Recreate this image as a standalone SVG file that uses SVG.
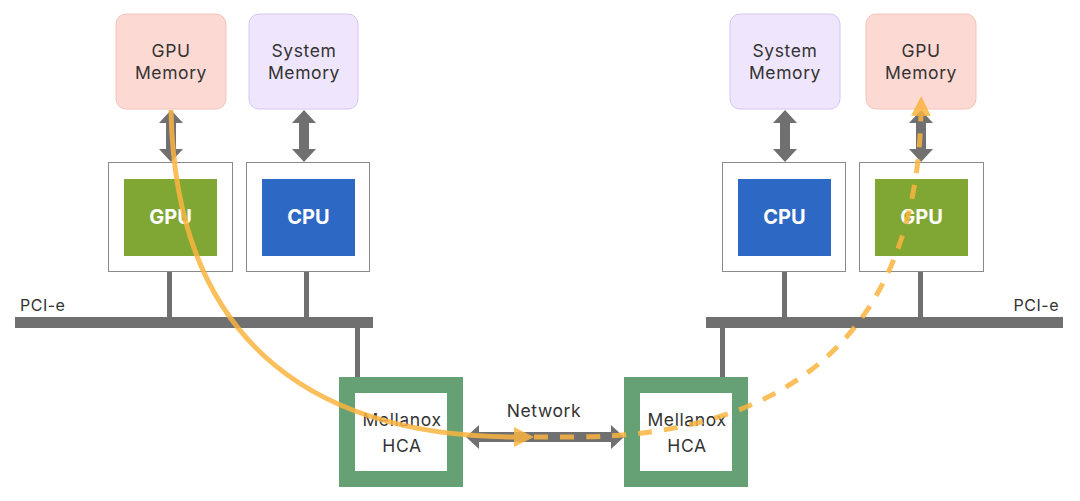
<svg xmlns="http://www.w3.org/2000/svg" width="1080" height="501" viewBox="0 0 1080 501">
<defs>
<style>
.gmem{fill:#fdd9d3;stroke:#f5c3b9;stroke-width:1}
.smem{fill:#efe6fd;stroke:#d6c4f6;stroke-width:1}
.outer{fill:#ffffff;stroke:#8a8a8a;stroke-width:1}
.gpu{fill:#80a733}
.cpu{fill:#2d68c4}
.hca{fill:#ffffff;stroke:#65a174;stroke-width:16}
.grey{fill:#707070}
.lbl{font-family:Inter,"Noto Sans","DejaVu Sans",sans-serif;font-size:17.5px;letter-spacing:0.6px;fill:#333333;text-anchor:middle}
.chip{font-family:Inter,"Noto Sans","DejaVu Sans",sans-serif;font-size:20px;font-weight:bold;fill:#ffffff;text-anchor:middle}
.pci{font-family:Inter,"Noto Sans","DejaVu Sans",sans-serif;font-size:16px;letter-spacing:0.5px;fill:#333333}
.flow{fill:none;stroke:#fbb440;stroke-width:5;opacity:0.85}
</style>
<marker id="oh" viewBox="0 0 10 10" refX="2" refY="5" markerWidth="4" markerHeight="4" orient="auto" markerUnits="strokeWidth">
<path d="M0,0 L10,5 L0,10 Z" fill="#fbb440"/>
</marker>
</defs>

<g id="bus-left">
<rect class="grey" x="15" y="317" width="358" height="11"/>
<text class="pci" x="20" y="311">PCI-e</text>
</g>
<g id="bus-right">
<rect class="grey" x="706" y="317" width="357" height="11"/>
<text class="pci" x="1059" y="311" text-anchor="end">PCI-e</text>
</g>

<g id="links">
<rect class="grey" x="167" y="271" width="5" height="46"/>
<rect class="grey" x="304" y="271" width="5" height="46"/>
<rect class="grey" x="355" y="328" width="5" height="49"/>
<rect class="grey" x="782" y="271" width="5" height="46"/>
<rect class="grey" x="918" y="271" width="5" height="46"/>
<rect class="grey" x="720" y="328" width="5" height="49"/>
<polygon class="grey" points="171,110 183,123 176,123 176,149 183,149 171,162 159,149 166,149 166,123 159,123"/>
<polygon class="grey" points="304,110 316,123 309,123 309,149 316,149 304,162 292,149 299,149 299,123 292,123"/>
<polygon class="grey" points="785,110 797,123 790,123 790,149 797,149 785,162 773,149 780,149 780,123 773,123"/>
<polygon class="grey" points="921,110 933,123 926,123 926,149 933,149 921,162 909,149 916,149 916,123 909,123"/>
<polygon class="grey" points="466,437 479,425 479,432 611,432 611,425 624,437 611,449 611,442 479,442 479,449"/>
<text class="lbl" x="544" y="417">Network</text>
</g>

<g id="gpu-mem-left">
<rect class="gmem" x="116" y="14" width="110" height="95" rx="10"/>
<text class="lbl" x="171" y="57">GPU</text>
<text class="lbl" x="171" y="79">Memory</text>
</g>
<g id="sys-mem-left">
<rect class="smem" x="249" y="14" width="109" height="95" rx="10"/>
<text class="lbl" x="304" y="57">System</text>
<text class="lbl" x="304" y="79">Memory</text>
</g>
<g id="sys-mem-right">
<rect class="smem" x="730" y="14" width="110" height="95" rx="10"/>
<text class="lbl" x="785" y="57">System</text>
<text class="lbl" x="785" y="79">Memory</text>
</g>
<g id="gpu-mem-right">
<rect class="gmem" x="866" y="14" width="110" height="95" rx="10"/>
<text class="lbl" x="921" y="57">GPU</text>
<text class="lbl" x="921" y="79">Memory</text>
</g>

<g id="gpu-left">
<rect class="outer" x="108.5" y="162.5" width="124" height="109"/>
<rect class="gpu" x="124" y="179" width="93" height="77"/>
<text class="chip" x="170.5" y="224">GPU</text>
</g>
<g id="cpu-left">
<rect class="outer" x="246.5" y="162.5" width="123" height="109"/>
<rect class="cpu" x="262" y="179" width="93" height="77"/>
<text class="chip" x="308.5" y="224">CPU</text>
</g>
<g id="cpu-right">
<rect class="outer" x="722.5" y="162.5" width="123" height="109"/>
<rect class="cpu" x="738" y="179" width="93" height="77"/>
<text class="chip" x="784.5" y="224">CPU</text>
</g>
<g id="gpu-right">
<rect class="outer" x="859.5" y="162.5" width="124" height="109"/>
<rect class="gpu" x="875" y="179" width="93" height="77"/>
<text class="chip" x="921.5" y="224">GPU</text>
</g>

<g id="hca-left">
<rect class="hca" x="347" y="385" width="108" height="94"/>
<text class="lbl" x="402" y="426">Mellanox</text>
<text class="lbl" x="402" y="452">HCA</text>
</g>
<g id="hca-right">
<rect class="hca" x="632" y="385" width="108" height="94"/>
<text class="lbl" x="687" y="426">Mellanox</text>
<text class="lbl" x="687" y="452">HCA</text>
</g>

<g id="flow">
<path class="flow" d="M171,110 C175,330 300,437 518,437" marker-end="url(#oh)"/>
<path class="flow" d="M534,437 L572,437 C792,437 917,330 921,112" stroke-dasharray="14 12" marker-end="url(#oh)"/>
</g>
</svg>
